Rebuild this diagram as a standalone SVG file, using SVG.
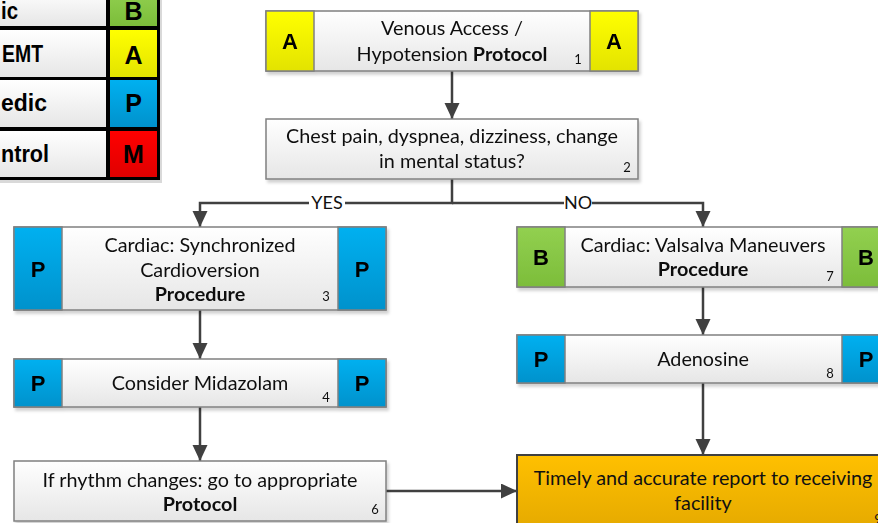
<svg xmlns="http://www.w3.org/2000/svg" width="878" height="523" viewBox="0 0 878 523">
  <defs>
    <linearGradient id="gBody" x1="0" y1="0" x2="0" y2="1">
      <stop offset="0" stop-color="#ffffff"/>
      <stop offset="1" stop-color="#e6e6e6"/>
    </linearGradient>
    <linearGradient id="gYellow" x1="0" y1="0" x2="0" y2="1">
      <stop offset="0" stop-color="#ffff00"/>
      <stop offset="1" stop-color="#e3e300"/>
    </linearGradient>
    <linearGradient id="gBlue" x1="0" y1="0" x2="0" y2="1">
      <stop offset="0" stop-color="#00b0f0"/>
      <stop offset="1" stop-color="#0092cc"/>
    </linearGradient>
    <linearGradient id="gGreen" x1="0" y1="0" x2="0" y2="1">
      <stop offset="0" stop-color="#92d050"/>
      <stop offset="1" stop-color="#7cbd3a"/>
    </linearGradient>
    <linearGradient id="gRed" x1="0" y1="0" x2="0" y2="1">
      <stop offset="0" stop-color="#ff0000"/>
      <stop offset="1" stop-color="#e00000"/>
    </linearGradient>
    <linearGradient id="gOrange" x1="0" y1="0" x2="0" y2="1">
      <stop offset="0" stop-color="#ffc000"/>
      <stop offset="1" stop-color="#e3a800"/>
    </linearGradient>
    <filter id="shadow" x="-5%" y="-10%" width="115%" height="140%">
      <feDropShadow dx="2" dy="3" stdDeviation="1.5" flood-color="#000000" flood-opacity="0.18"/>
    </filter>
    <marker id="arrow" markerUnits="userSpaceOnUse" markerWidth="17" markerHeight="16" refX="16" refY="7.5" orient="auto">
      <path d="M0,0 L16,7.5 L0,15 z" fill="#404040"/>
    </marker>
  </defs>
  <style>
    .body { fill: url(#gBody); stroke: #808080; stroke-width: 1.5; }
    .y { fill: url(#gYellow); stroke: #808080; stroke-width: 1.5; }
    .b { fill: url(#gBlue); stroke: #808080; stroke-width: 1.5; }
    .g { fill: url(#gGreen); stroke: #808080; stroke-width: 1.5; }
    .o { fill: url(#gOrange); stroke: #404040; stroke-width: 2; }
    .t { font-family: Lato, "Liberation Sans", sans-serif; font-size: 19.8px; fill: #111111; text-anchor: middle; }
    .bold { font-weight: bold; }
    .n { font-family: Lato, "Liberation Sans", sans-serif; font-size: 13px; fill: #111111; text-anchor: middle; }
    .badge { font-family: "Liberation Sans", Arial, sans-serif; font-size: 22px; font-weight: bold; fill: #000000; text-anchor: middle; }
    .lbadge { font-family: "Liberation Sans", Arial, sans-serif; font-size: 25px; font-weight: bold; fill: #000000; text-anchor: middle; }
    .leg { font-family: "Liberation Sans", Arial, sans-serif; font-size: 23px; font-weight: bold; fill: #000000; }
    .lbl { font-family: Lato, "Liberation Sans", sans-serif; font-size: 18px; fill: #111111; text-anchor: middle; }
    .conn { fill: none; stroke: #404040; stroke-width: 2.5; }
  </style>

  <!-- Provider level legend -->
  <g id="legend">
    <rect x="-8" y="-8" width="170" height="191" fill="#bfbfbf" opacity="0.6"/>
    <rect x="-10" y="-10" width="170" height="190" fill="#000000"/>
    <rect x="-10" y="-10" width="116" height="36" fill="url(#gBody)"/>
    <rect x="110" y="-10" width="47" height="36" fill="url(#gGreen)"/>
    <rect x="-10" y="30" width="116" height="47" fill="url(#gBody)"/>
    <rect x="110" y="30" width="47" height="47" fill="url(#gYellow)"/>
    <rect x="-10" y="80" width="116" height="47" fill="url(#gBody)"/>
    <rect x="110" y="80" width="47" height="47" fill="url(#gBlue)"/>
    <rect x="-10" y="131" width="116" height="46" fill="url(#gBody)"/>
    <rect x="110" y="131" width="47" height="46" fill="url(#gRed)"/>
    <text class="leg" x="1" y="19" textLength="17" lengthAdjust="spacingAndGlyphs">ic</text>
    <text class="leg" x="2" y="62" textLength="41" lengthAdjust="spacingAndGlyphs">EMT</text>
    <text class="leg" x="1" y="111" textLength="46" lengthAdjust="spacingAndGlyphs">edic</text>
    <text class="leg" x="1" y="162" textLength="48" lengthAdjust="spacingAndGlyphs">ntrol</text>
    <text class="lbadge" x="133.5" y="20">B</text>
    <text class="lbadge" x="133.5" y="64">A</text>
    <text class="lbadge" x="133.5" y="112">P</text>
    <text class="lbadge" x="133.5" y="163">M</text>
  </g>

  <!-- Connectors -->
  <g id="connectors">
    <line class="conn" x1="452" y1="71" x2="452" y2="119" marker-end="url(#arrow)"/>
    <polyline class="conn" points="452,179 452,203 200,203 200,227" marker-end="url(#arrow)"/>
    <polyline class="conn" points="452,203 703,203 703,227" marker-end="url(#arrow)"/>
    <rect x="309" y="193" width="36" height="20" fill="#ffffff"/>
    <text class="lbl" x="327" y="209">YES</text>
    <rect x="564" y="193" width="28" height="20" fill="#ffffff"/>
    <text class="lbl" x="578" y="209">NO</text>
    <line class="conn" x1="200" y1="310" x2="200" y2="359" marker-end="url(#arrow)"/>
    <line class="conn" x1="200" y1="407" x2="200" y2="461" marker-end="url(#arrow)"/>
    <line class="conn" x1="703" y1="287" x2="703" y2="335" marker-end="url(#arrow)"/>
    <line class="conn" x1="703" y1="383" x2="703" y2="455" marker-end="url(#arrow)"/>
    <line class="conn" x1="386" y1="491" x2="517" y2="491" marker-end="url(#arrow)"/>
  </g>

  <!-- 1: Venous Access / Hypotension Protocol -->
  <g id="node1" filter="url(#shadow)">
    <rect class="body" x="266" y="11" width="372" height="60"/>
    <rect class="y" x="266" y="11" width="48" height="60"/>
    <rect class="y" x="590" y="11" width="48" height="60"/>
    <text class="badge" x="290" y="49">A</text>
    <text class="badge" x="614" y="49">A</text>
    <text class="t" x="452" y="35">Venous Access /</text>
    <text class="t" x="452" y="61">Hypotension <tspan class="bold">Protocol</tspan></text>
    <text class="n" x="578" y="64">1</text>
  </g>

  <!-- 2: Symptom question -->
  <g id="node2" filter="url(#shadow)">
    <rect class="body" x="266" y="119" width="372" height="60"/>
    <text class="t" x="452" y="143">Chest pain, dyspnea, dizziness, change</text>
    <text class="t" x="452" y="168">in mental status?</text>
    <text class="n" x="627" y="172">2</text>
  </g>

  <!-- 3: Synchronized Cardioversion -->
  <g id="node3" filter="url(#shadow)">
    <rect class="body" x="14" y="227" width="372" height="83"/>
    <rect class="b" x="14" y="227" width="48" height="83"/>
    <rect class="b" x="338" y="227" width="48" height="83"/>
    <text class="badge" x="38" y="277">P</text>
    <text class="badge" x="362" y="277">P</text>
    <text class="t" x="200" y="252">Cardiac: Synchronized</text>
    <text class="t" x="200" y="277">Cardioversion</text>
    <text class="t bold" x="200" y="301">Procedure</text>
    <text class="n" x="326" y="301">3</text>
  </g>

  <!-- 4: Consider Midazolam -->
  <g id="node4" filter="url(#shadow)">
    <rect class="body" x="14" y="359" width="372" height="48"/>
    <rect class="b" x="14" y="359" width="48" height="48"/>
    <rect class="b" x="338" y="359" width="48" height="48"/>
    <text class="badge" x="38" y="391">P</text>
    <text class="badge" x="362" y="391">P</text>
    <text class="t" x="200" y="390">Consider Midazolam</text>
    <text class="n" x="326" y="402">4</text>
  </g>

  <!-- 6: Rhythm change -->
  <g id="node6" filter="url(#shadow)">
    <rect class="body" x="14" y="461" width="372" height="60"/>
    <text class="t" x="200" y="487">If rhythm changes: go to appropriate</text>
    <text class="t bold" x="200" y="511">Protocol</text>
    <text class="n" x="375" y="514">6</text>
  </g>

  <!-- 7: Valsalva Maneuvers -->
  <g id="node7" filter="url(#shadow)">
    <rect class="body" x="517" y="227" width="373" height="60"/>
    <rect class="g" x="517" y="227" width="48" height="60"/>
    <rect class="g" x="842" y="227" width="48" height="60"/>
    <text class="badge" x="541" y="265">B</text>
    <text class="badge" x="866" y="265">B</text>
    <text class="t" x="703" y="252">Cardiac: Valsalva Maneuvers</text>
    <text class="t bold" x="703" y="276">Procedure</text>
    <text class="n" x="830" y="281">7</text>
  </g>

  <!-- 8: Adenosine -->
  <g id="node8" filter="url(#shadow)">
    <rect class="body" x="517" y="335" width="373" height="48"/>
    <rect class="b" x="517" y="335" width="48" height="48"/>
    <rect class="b" x="842" y="335" width="48" height="48"/>
    <text class="badge" x="541" y="367">P</text>
    <text class="badge" x="866" y="367">P</text>
    <text class="t" x="703" y="366">Adenosine</text>
    <text class="n" x="830" y="378">8</text>
  </g>

  <!-- 9: Report to receiving facility -->
  <g id="node9">
    <rect class="o" x="517" y="455" width="373" height="80"/>
    <text class="t" x="703" y="485">Timely and accurate report to receiving</text>
    <text class="t" x="703" y="510">facility</text>
    <text class="n" x="878" y="524">9</text>
  </g>
</svg>
